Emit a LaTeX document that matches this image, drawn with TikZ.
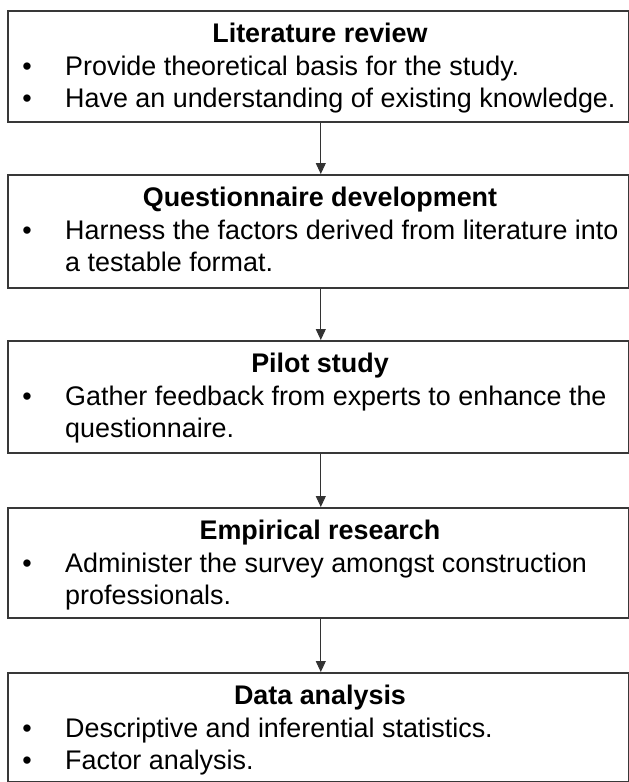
\documentclass[tikz,border=0pt]{standalone}
\usepackage{fontspec}
\setmainfont{Liberation Sans}
\usetikzlibrary{arrows.meta}
\begin{document}
\begin{tikzpicture}[x=1pt,y=-1pt,
  stage/.style={draw=black!78, line width=1.6pt, rectangle, minimum width=621pt,
                anchor=north west, inner sep=0pt},
  title/.style={anchor=base, inner sep=0pt, font=\fontsize{26.9}{32}\selectfont\bfseries},
  item/.style={anchor=base west, inner sep=0pt, font=\fontsize{26.9}{32}\selectfont},
  dot/.style={anchor=base, inner sep=0pt, font=\fontsize{26.9}{32}\selectfont},
  flow/.style={draw=black!80, line width=1pt, -{Triangle[width=10pt,length=11pt]}}]
\useasboundingbox (0,0) rectangle (629,782);

% stage boxes
\node[stage, minimum height=111pt] (b1) at (7,10) {};
\node[stage, minimum height=113pt] (b2) at (7,174) {};
\node[stage, minimum height=112pt] (b3) at (7,340) {};
\node[stage, minimum height=110pt] (b4) at (7,507) {};
\node[stage, minimum height=109pt] (b5) at (7,672) {};

% stage 1
\node[title] (b1t) at (320,42) {Literature review};
\node[dot]  (b1p) at (27,75) {\textbullet};
\node[item] (b1a) at (65,75) {Provide theoretical basis for the study.};
\node[dot]  (b1q) at (27,107) {\textbullet};
\node[item] (b1b) at (65,107) {Have an understanding of existing knowledge.};

% stage 2
\node[title] (b2t) at (320,206) {Questionnaire development};
\node[dot]  (b2p) at (27,239) {\textbullet};
\node[item] (b2a) at (65,239) {Harness the factors derived from literature into};
\node[item] (b2b) at (65,271) {a testable format.};

% stage 3
\node[title] (b3t) at (320,372) {Pilot study};
\node[dot]  (b3p) at (27,405) {\textbullet};
\node[item] (b3a) at (65,405) {Gather feedback from experts to enhance the};
\node[item] (b3b) at (65,437) {questionnaire.};

% stage 4
\node[title] (b4t) at (320,539) {Empirical research};
\node[dot]  (b4p) at (27,572) {\textbullet};
\node[item] (b4a) at (65,572) {Administer the survey amongst construction};
\node[item] (b4b) at (65,604) {professionals.};

% stage 5
\node[title] (b5t) at (320,704) {Data analysis};
\node[dot]  (b5p) at (27,737) {\textbullet};
\node[item] (b5a) at (65,737) {Descriptive and inferential statistics.};
\node[dot]  (b5q) at (27,769) {\textbullet};
\node[item] (b5b) at (65,769) {Factor analysis.};

% connectors
\draw[flow] ([xshift=2.5pt]b1.south) -- ([xshift=2.5pt]b2.north);
\draw[flow] ([xshift=2.5pt]b2.south) -- ([xshift=2.5pt]b3.north);
\draw[flow] ([xshift=2.5pt]b3.south) -- ([xshift=2.5pt]b4.north);
\draw[flow] ([xshift=2.5pt]b4.south) -- ([xshift=2.5pt]b5.north);
\end{tikzpicture}
\end{document}
